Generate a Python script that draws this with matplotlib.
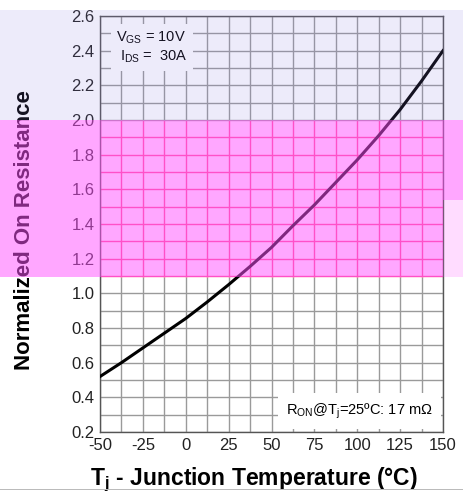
import numpy as np
import matplotlib
matplotlib.use('Agg')
import matplotlib.pyplot as plt
from matplotlib.patches import Rectangle

from matplotlib import rcParams
rcParams['font.family'] = 'Liberation Sans'
rcParams['mathtext.default'] = 'regular'

# junction temperature (degC) and normalized on-resistance
temp = [-50, -37.5, -25, -12.5, 0, 12.5, 25, 37.5, 50, 62.5, 75, 87.5, 100, 112.5, 125, 137.5, 150]
r_norm = [0.52, 0.60, 0.685, 0.77, 0.855, 0.95, 1.05, 1.155, 1.265, 1.39, 1.51, 1.64, 1.77, 1.91, 2.06, 2.225, 2.4]

x_ticks = [-50, -25, 0, 25, 50, 75, 100, 125, 150]
y_ticks = [0.2, 0.4, 0.6, 0.8, 1.0, 1.2, 1.4, 1.6, 1.8, 2.0, 2.2, 2.4, 2.6]

W, H = 463, 493
fig = plt.figure(figsize=(W / 100, H / 100), dpi=100)

def fx(px):
    return px / W

def fy(py):
    return 1 - py / H

ax = fig.add_axes([fx(100), fy(432), fx(343), (432 - 16) / H])
ax.set_xlim(-50, 150)
ax.set_ylim(0.2, 2.6)
ax.set_xticks(x_ticks)
ax.set_yticks(y_ticks)
ax.set_xticklabels([str(t) for t in x_ticks])
ax.set_yticklabels(['%.1f' % t for t in y_ticks])
ax.tick_params(which='both', length=0, labelsize=12, colors='#222222', pad=4)
for s in ax.spines.values():
    s.set_color('#555555')
    s.set_linewidth(1)

# grid drawn by hand: the part under the pink cast is hot pink in the scan
band_lo, band_hi = 1.095, 2.0
grey, pink = '#9a9a9a', '#ff4f91'
for gx in np.arange(-50, 151, 12.5):
    ax.vlines(gx, 0.2, band_lo, color=grey, lw=1, zorder=1)
    ax.vlines(gx, band_lo, band_hi, color=pink, lw=1, zorder=1)
    ax.vlines(gx, band_hi, 2.6, color=grey, lw=1, zorder=1)
for gy in np.arange(0.2, 2.61, 0.1):
    c = pink if band_lo < gy < band_hi - 0.01 else grey
    ax.axhline(gy, color=c, lw=1, zorder=1)

ax.plot(temp, r_norm, color='black', lw=2.2, zorder=3)

ax.text(-40.5, 2.42, 'V$_{GS}$ = 10V\n I$_{DS}$ =  30A', fontsize=10.5, va='center', ha='left',
        linespacing=1.25, bbox=dict(facecolor='white', edgecolor='none', pad=4), zorder=4)
ax.text(144, 0.32, 'R$_{ON}$@T$_j$=25ºC: 17 mΩ', fontsize=10.5, va='center', ha='right',
        bbox=dict(facecolor='white', edgecolor='none', pad=6), zorder=4)

fig.text(fx(25), fy(230), 'Normalized On Resistance', rotation=90, fontsize=16,
         fontweight='bold', ha='center', va='center')
fig.text(fx(254), fy(485), 'T$_j$ - Junction Temperature (°C)', fontsize=16.5,
         fontweight='bold', ha='center', va='baseline')

# colour casts and damaged strip of the scanned figure
fig.patches.append(Rectangle((0, fy(120)), 1, (120 - 10) / H, transform=fig.transFigure,
                             facecolor='#8c7be3', alpha=0.15, edgecolor='none', zorder=10))
fig.patches.append(Rectangle((0, fy(200)), 1, 80 / H, transform=fig.transFigure,
                             facecolor='#ff51ff', alpha=0.5, edgecolor='none', zorder=10))
fig.patches.append(Rectangle((0, fy(277)), fx(443), 77 / H, transform=fig.transFigure,
                             facecolor='#ff51ff', alpha=0.5, edgecolor='none', zorder=10))
fig.patches.append(Rectangle((fx(443), fy(277)), 1 - fx(443), 77 / H, transform=fig.transFigure,
                             facecolor='#ff51ff', alpha=0.2, edgecolor='none', zorder=10))
fig.patches.append(Rectangle((0, fy(10)), 1, 10 / H, transform=fig.transFigure,
                             facecolor='white', edgecolor='none', zorder=11))
fig.patches.append(Rectangle((0, fy(490)), 1, 1.5 / H, transform=fig.transFigure,
                             facecolor='#bbbbbb', edgecolor='none', zorder=12))

fig.savefig('out.png', dpi=100)
